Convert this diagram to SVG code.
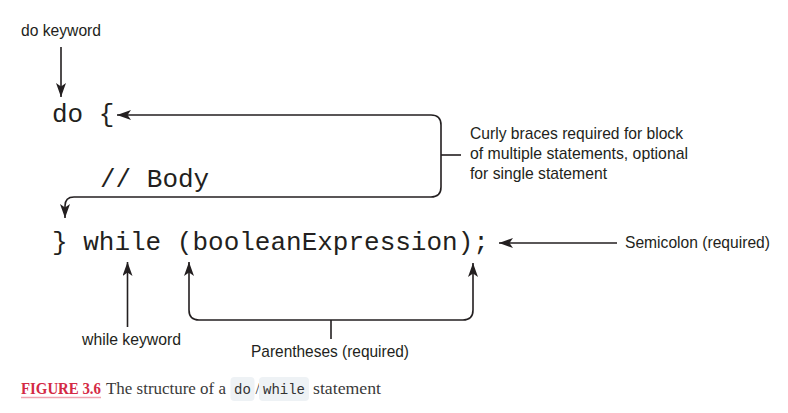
<svg xmlns="http://www.w3.org/2000/svg" width="788" height="413" viewBox="0 0 788 413">
<style>
.code{font-family:"Liberation Mono","Courier New",monospace;font-size:26px;fill:#231f20}
.lbl{font-family:"Liberation Sans",Arial,sans-serif;font-size:17px;fill:#231f20}
.con{fill:none;stroke:#231f20;stroke-width:1.6}
.cap{font-family:"Liberation Serif","Times New Roman",serif;font-size:16px;fill:#3a3a3a}
.cc{font-family:"Liberation Mono","Courier New",monospace;font-size:14px;fill:#333}
</style>
<defs>
<marker id="ah" viewBox="0 0 14 10" refX="14" refY="5" markerWidth="14" markerHeight="10" markerUnits="userSpaceOnUse" orient="auto">
<path d="M0,0 L14,5 L0,10 L3.5,5 z" fill="#231f20"/>
</marker>
</defs>
<rect width="788" height="413" fill="#fff"/>
<g id="code">
<text class="code" x="52" y="122">do {</text>
<text class="code" x="100" y="187">// Body</text>
<text class="code" x="52" y="250">} while (booleanExpression);</text>
</g>
<g id="label-do">
<text class="lbl" x="21" y="36" textLength="80" lengthAdjust="spacingAndGlyphs">do keyword</text>
</g>
<g id="label-curly">
<text class="lbl" x="470" y="139" textLength="213" lengthAdjust="spacingAndGlyphs">Curly braces required for block</text>
<text class="lbl" x="470" y="159" textLength="218" lengthAdjust="spacingAndGlyphs">of multiple statements, optional</text>
<text class="lbl" x="470" y="179" textLength="137" lengthAdjust="spacingAndGlyphs">for single statement</text>
</g>
<g id="label-semicolon">
<text class="lbl" x="625" y="248" textLength="145" lengthAdjust="spacingAndGlyphs">Semicolon (required)</text>
</g>
<g id="label-while">
<text class="lbl" x="82" y="345" textLength="99" lengthAdjust="spacingAndGlyphs">while keyword</text>
</g>
<g id="label-paren">
<text class="lbl" x="251" y="357" textLength="158" lengthAdjust="spacingAndGlyphs">Parentheses (required)</text>
</g>
<g id="connectors">
<path class="con" d="M61 47 V97" marker-end="url(#ah)"/>
<path class="con" d="M441 155 V125 Q441 115 431 115 H117" marker-end="url(#ah)"/>
<path class="con" d="M441 155 V187 Q441 197 431 197 H74 Q65 197 65 206 V218" marker-end="url(#ah)"/>
<path class="con" d="M441 155 H461"/>
<path class="con" d="M617 243 H499" marker-end="url(#ah)"/>
<path class="con" d="M127.5 327 V262" marker-end="url(#ah)"/>
<path class="con" d="M331 320 H199 Q189 320 189 310 V262" marker-end="url(#ah)"/>
<path class="con" d="M331 320 H463 Q473 320 473 310 V263" marker-end="url(#ah)"/>
<path class="con" d="M331 320 V339"/>
</g>
<g id="caption">
<text x="21" y="394" font-family="Liberation Serif,Times New Roman,serif" font-size="16" font-weight="bold" fill="#d42a45" textLength="80" lengthAdjust="spacingAndGlyphs">FIGURE 3.6</text>
<line x1="21" y1="397.5" x2="101" y2="397.5" stroke="#f0a3b0" stroke-width="1.6"/>
<text class="cap" x="106" y="394" textLength="120" lengthAdjust="spacingAndGlyphs">The structure of a</text>
<rect x="230.5" y="377" width="24" height="24" rx="4" fill="#eef2f5"/>
<text class="cc" x="242.5" y="394" text-anchor="middle">do</text>
<text class="cap" x="255.5" y="394">/</text>
<rect x="259" y="377" width="50" height="24" rx="4" fill="#eef2f5"/>
<text class="cc" x="284" y="394" text-anchor="middle">while</text>
<text class="cap" x="313" y="394" textLength="68" lengthAdjust="spacingAndGlyphs">statement</text>
</g>
</svg>
